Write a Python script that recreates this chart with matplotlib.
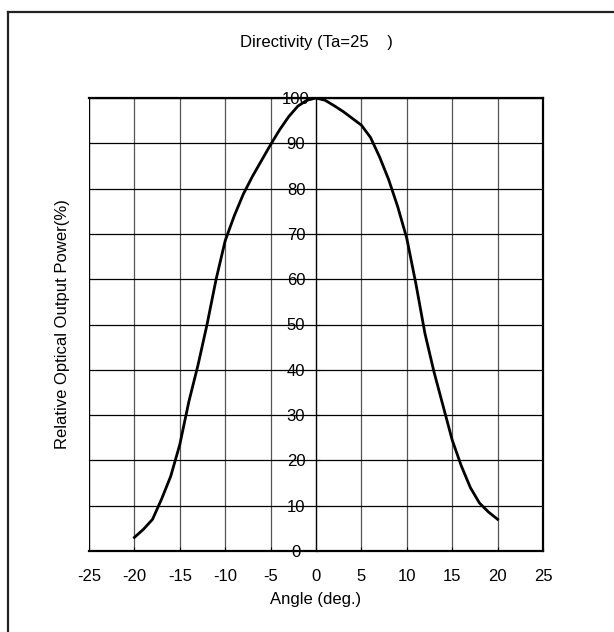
import matplotlib
matplotlib.use("Agg")
import matplotlib.pyplot as plt
from matplotlib.lines import Line2D

plt.rcParams['font.family'] = ['Liberation Sans', 'DejaVu Sans']
plt.rcParams['axes.unicode_minus'] = False

# values
angle = [-20, -19, -18, -17, -16, -15, -14, -13, -12, -11, -10,
         -9, -8, -7, -6, -5, -4, -3, -2, -1, 0,
         1, 2, 3, 4, 5, 6, 7, 8, 9, 10,
         11, 12, 13, 14, 15, 16, 17, 18, 19, 20]
power = [3, 4.8, 7, 11.5, 16.5, 23.5, 33, 41, 50, 60, 68.5,
         74, 78.8, 82.7, 86.2, 89.7, 93, 95.9, 98.2, 99.5, 100,
         99.5, 98.3, 97, 95.5, 94, 91.3, 87, 82, 76, 69,
         59, 48, 39.5, 32, 24.5, 18.8, 14, 10.6, 8.6, 7]
x_ticks = [-25, -20, -15, -10, -5, 0, 5, 10, 15, 20, 25]
y_ticks = [0, 10, 20, 30, 40, 50, 60, 70, 80, 90, 100]

fig = plt.figure(figsize=(6.14, 6.32), dpi=100)
W, H = 614, 632
ax = fig.add_axes([89 / W, 1 - 551 / H, 454 / W, 453 / H])

ax.plot(angle, power, color='black', lw=2.0, solid_joinstyle='round', zorder=3)

ax.set_xlim(-25, 25)
ax.set_ylim(0, 100)
ax.set_xticks(x_ticks)
ax.set_yticks(y_ticks)

# grid
ax.grid(axis='y', color='black', lw=0.9)
ax.grid(axis='x', color='#555555', lw=0.9)
ax.set_axisbelow(True)

# y axis sits on the zero line
ax.spines['left'].set_position(('data', 0))
ax.spines['left'].set_linewidth(0.9)
ax.axvline(-25, color='black', lw=1.6, zorder=4)
for s in ['top', 'right', 'bottom']:
    ax.spines[s].set_linewidth(1.6)

ax.tick_params(axis='y', direction='in', length=3, width=0.8, pad=14.4, labelsize=12)
ax.tick_params(axis='x', direction='in', length=3, width=0.8, pad=13, labelsize=12)
for lab in ax.get_yticklabels():
    lab.set_horizontalalignment('center')

ax.set_xlabel('Angle (deg.)', fontsize=12, labelpad=6)
ax.set_ylabel('Relative Optical Output Power(%)', fontsize=12)
ax.yaxis.set_label_coords(-0.042, 0.5)
ax.set_title('Directivity (Ta=25    )', fontsize=12, pad=37)

# partial outer frame (top and left only)
fig.add_artist(Line2D([8 / W, 8 / W], [0, 1 - 12 / H], transform=fig.transFigure,
                      color='#222222', lw=1.6))
fig.add_artist(Line2D([8 / W, 1], [1 - 12 / H, 1 - 12 / H], transform=fig.transFigure,
                      color='#222222', lw=1.6))

fig.savefig('out.png', dpi=100)
